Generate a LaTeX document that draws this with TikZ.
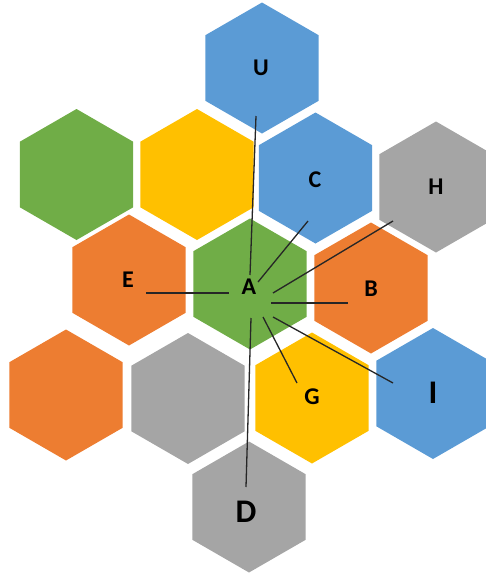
\documentclass[tikz,border=0pt]{standalone}
\usepackage{fontspec}
\setmainfont{Carlito}
\usetikzlibrary{shapes.geometric}
\definecolor{hblue}{HTML}{5B9BD5}
\definecolor{hgreen}{HTML}{70AD47}
\definecolor{hyellow}{HTML}{FFC000}
\definecolor{horange}{HTML}{ED7D31}
\definecolor{hgray}{HTML}{A5A5A5}
\tikzset{
  hex/.style={regular polygon, regular polygon sides=6, shape border rotate=30,
    minimum size=131pt, inner sep=0pt, outer sep=0pt, draw=none, fill=#1},
  lab/.style={font=\fontsize{24}{24}\selectfont\bfseries, inner sep=0pt, text=black},
  biglab/.style={font=\fontsize{33}{33}\selectfont\bfseries, inner sep=0pt, text=black},
  link/.style={draw=black!85, line width=1.3pt}
}
\begin{document}
\begin{tikzpicture}[x=1pt,y=-1pt]
\useasboundingbox (0,0) rectangle (486,573);
% hexagons
\node[hex=hblue]   (hU)  at (262,68) {};
\node[hex=hgreen]  (hTL) at (76.5,174.5) {};
\node[hex=hyellow] (hY)  at (197,174.5) {};
\node[hex=hblue]   (hC)  at (315.5,178) {};
\node[hex=hgray]   (hH)  at (436,187) {};
\node[hex=horange] (hE)  at (129,280) {};
\node[hex=hgreen]  (hA)  at (250,284) {};
\node[hex=horange] (hB)  at (371,288) {};
\node[hex=horange] (hBL) at (66,395) {};
\node[hex=hgray]   (hGr) at (188,398.5) {};
\node[hex=hyellow] (hG)  at (312,398) {};
\node[hex=hblue]   (hI)  at (433,393.5) {};
\node[hex=hgray]   (hD)  at (249,507) {};
% labels
\node[lab] (U) at (261,68) {U};
\node[lab] (C) at (315,180) {C};
\node[lab] (H) at (436,187) {H};
\node[lab] (E) at (128,280) {E};
\node[lab] (A) at (249,287) {A};
\node[lab] (B) at (371,289) {B};
\node[lab] (G) at (312,397) {G};
\node[biglab] (I) at (433,393) {I};
\node[biglab] (D) at (246,512) {D};
% connector end points
\coordinate (u1) at (256,116); \coordinate (u2) at (250,275);
\coordinate (c1) at (308,221); \coordinate (c2) at (258,282);
\coordinate (h1) at (393,221); \coordinate (h2) at (273,293);
\coordinate (e1) at (146,293); \coordinate (e2) at (229,293);
\coordinate (b1) at (271,303); \coordinate (b2) at (348,303);
\coordinate (d1) at (251,318); \coordinate (d2) at (246,487);
\coordinate (g1) at (263,317); \coordinate (g2) at (297,383);
\coordinate (i1) at (273,317); \coordinate (i2) at (393,383);
\draw[link] (u1) -- (u2);
\draw[link] (c1) -- (c2);
\draw[link] (h1) -- (h2);
\draw[link] (e1) -- (e2);
\draw[link] (b1) -- (b2);
\draw[link] (d1) -- (d2);
\draw[link] (g1) -- (g2);
\draw[link] (i1) -- (i2);
\end{tikzpicture}
\end{document}
